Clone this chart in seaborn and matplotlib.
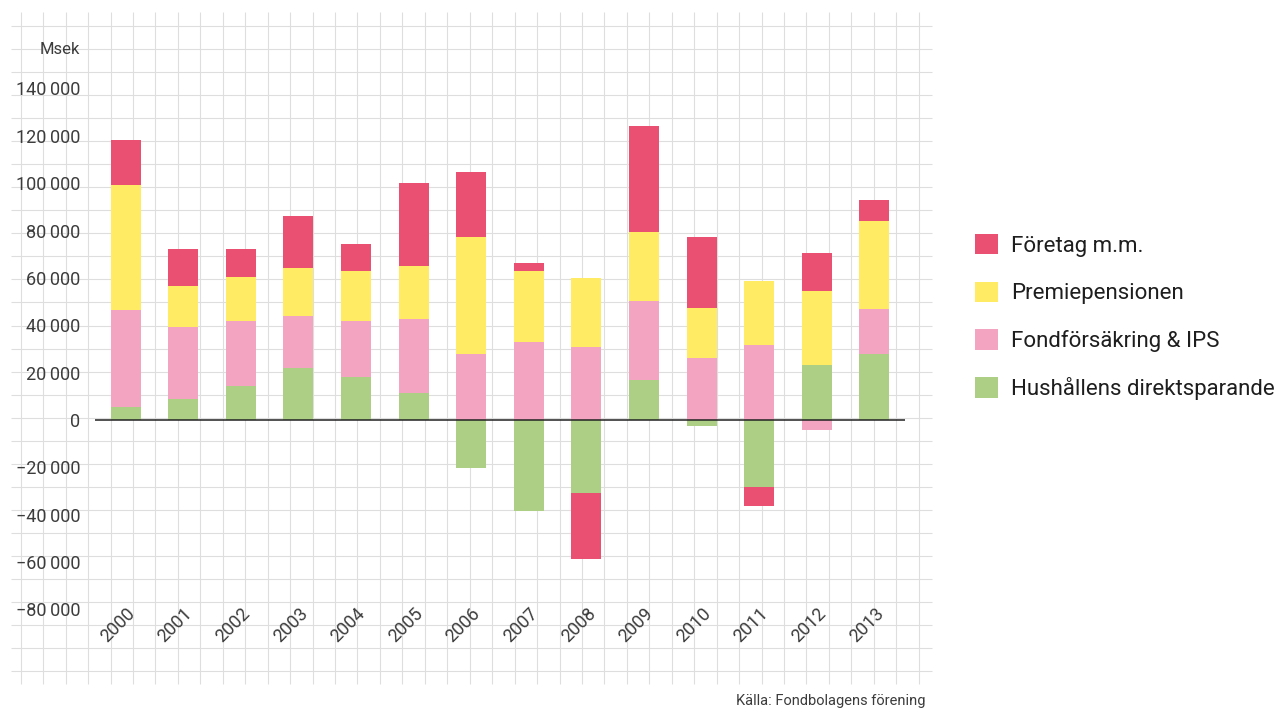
#!/usr/bin/env python3
"""Nettoflöden till fonder per sparkategori, 2000-2013 (stacked bars)."""

import matplotlib.pyplot as plt
import numpy as np
import seaborn as sns
from matplotlib.patches import Patch

W, H, DPI = 1282, 708, 100

years = [str(y) for y in range(2000, 2014)]
hushall = [5400, 8900, 14400, 22000, 18200, 11300, -20100, -38300, -30800, 16800, -2500, -28300, 23200, 27900]
fondforsakring = [41000, 30400, 27400, 21900, 23600, 31400, 27900, 32900, 30800, 33400, 26200, 31600, -4200, 19000]
premiepension = [53000, 17300, 18600, 20300, 21100, 22400, 49400, 30000, 29100, 29100, 21100, 27000, 31200, 37100]
foretag = [19000, 15600, 11800, 22000, 11400, 35000, 27500, 3300, -27900, 44700, 30000, -8000, 16000, 8900]

series_names = ["Hushållens direktsparande", "Fondförsäkring & IPS", "Premiepensionen", "Företag m.m."]
series_colors = ["#ACCF85", "#F2A4C1", "#FFEC64", "#EA5071"]
y_ticks = list(range(-80000, 140001, 20000))


def fmt(v):
    s = f"{abs(v):,}".replace(",", "\u2009")
    return ("\u2212" + s) if v < 0 else s


def px(x, y):
    return x / W, 1 - y / H


def main():
    sns.set_theme(style="white")
    plt.rcParams["font.family"] = ["Roboto", "DejaVu Sans"]
    text_col = "#3c3c3c"

    fig = plt.figure(figsize=(W / DPI, H / DPI), dpi=DPI)

    # graph-paper background
    bg = fig.add_axes([0, 0, 1, 1], zorder=0)
    bg.set_xlim(0, W)
    bg.set_ylim(H, 0)
    bg.axis("off")
    bg.hlines(np.arange(26, 672, 23.04), 11, 932, color="#dedede", lw=0.8)
    bg.vlines(np.arange(20.7, 920, 22.45), 12, 684, color="#dedede", lw=0.8)

    left, right, top, bottom = 95, 905, 12, 684
    ax = fig.add_axes([left / W, 1 - bottom / H, (right - left) / W, (bottom - top) / H], zorder=1)
    ax.patch.set_alpha(0)

    pos_cum = np.zeros(len(years))
    neg_cum = np.zeros(len(years))
    for name, vals, col in zip(series_names, [hushall, fondforsakring, premiepension, foretag], series_colors):
        v = np.array(vals, dtype=float)
        base = np.where(v >= 0, pos_cum, neg_cum)
        sns.barplot(x=years, y=v, bottom=base, color=col, saturation=1, width=0.52,
                    errorbar=None, linewidth=0, edgecolor="none", ax=ax)
        pos_cum += np.where(v >= 0, v, 0)
        neg_cum += np.where(v < 0, v, 0)

    per_px = 422.3
    ax.set_ylim(-(bottom - 420) * per_px, (420 - top) * per_px)
    ax.set_xlim(-0.53, 13.53)
    ax.axhline(0, color="#222222", lw=1.1, zorder=5)

    for s in ax.spines.values():
        s.set_visible(False)
    ax.grid(False)
    ax.set_xlabel("")
    ax.set_ylabel("")

    ax.set_yticks(y_ticks)
    ax.set_yticklabels([fmt(t) for t in y_ticks])
    ax.tick_params(axis="y", length=0, pad=10.5, labelsize=13, labelcolor=text_col)

    ax.set_xticks(range(len(years)))
    ax.set_xticklabels(years, rotation=45, ha="right", rotation_mode="anchor")
    ax.tick_params(axis="x", length=0, pad=-57, labelsize=13, labelcolor=text_col)

    fig.text(*px(80, 49), "Msek", ha="right", va="center", fontsize=12, color=text_col)
    fig.text(*px(925, 705), "Källa: Fondbolagens förening", ha="right", va="baseline",
             fontsize=10.5, color=text_col)

    handles = [Patch(facecolor=c, edgecolor="none", label=n)
               for n, c in zip(series_names[::-1], series_colors[::-1])]
    fig.legend(handles=handles, loc="upper left", bbox_to_anchor=px(975, 234), frameon=False,
               fontsize=16, handlelength=1.03, handleheight=1.03, handletextpad=0.6,
               labelspacing=1.12, borderpad=0, borderaxespad=0, labelcolor="#1e1e1e")

    fig.savefig("out.png", dpi=DPI)
    plt.close(fig)


if __name__ == "__main__":
    main()
